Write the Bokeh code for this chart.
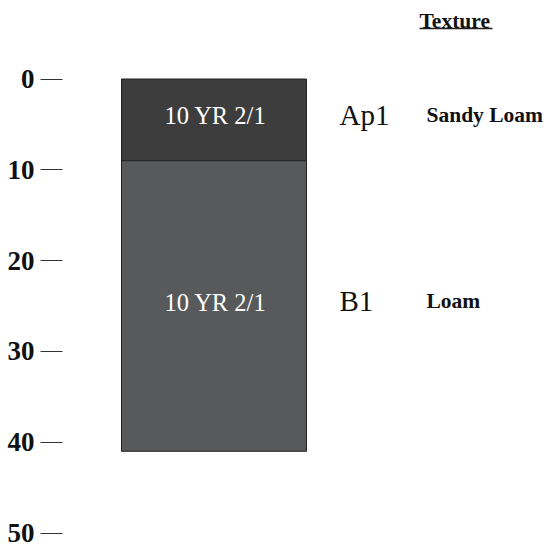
from bokeh.plotting import figure
from bokeh.models import Range1d, FixedTicker, ColumnDataSource, Label
from bokeh.core.properties import value
from bokeh.embed import file_html
from bokeh.resources import INLINE

# ---- data ----
horizons = ["Ap1", "B1"]
top_depth = [0, 9]
bottom_depth = [9, 41]
munsell = ["10 YR 2/1", "10 YR 2/1"]
textures = ["Sandy Loam", "Loam"]
fill_colors = ["#3d3d3d", "#58595b"]
depth_ticks = [0, 10, 20, 30, 40, 50]

# ---- layout constants ----
W, H = 548, 548
LEFT = 62
PX_PER_CM = 9.08
ZERO_Y = 78.5
SERIF = "Liberation Serif"

y_bottom = (H - ZERO_Y) / PX_PER_CM
y_top = -ZERO_Y / PX_PER_CM

def frame_y(px):
    return (px - ZERO_Y) / PX_PER_CM

p = figure(width=W, height=H, output_backend="svg", toolbar_location=None,
           x_range=Range1d(0, W - LEFT), y_range=Range1d(y_bottom, y_top),
           x_axis_location=None, y_axis_location="left",
           min_border_left=LEFT, min_border_right=0, min_border_top=0, min_border_bottom=0)
p.grid.visible = False
p.outline_line_color = None
p.background_fill_color = "white"
p.border_fill_color = "white"

mid = [(t + b) / 2 for t, b in zip(top_depth, bottom_depth)]
src = ColumnDataSource(dict(top=top_depth, bottom=bottom_depth, color=fill_colors,
                            mid=mid, munsell=munsell, hz=horizons, tex=textures))

p.quad(left=59, right=244, top="top", bottom="bottom", fill_color="color",
       line_color="#222222", line_width=1, source=src)

p.text(x=153, y="mid", text="munsell", source=src, text_align="center",
       text_baseline="middle", text_color="white", text_font=value(SERIF),
       text_font_size="24.5px", y_offset=-4)
p.text(x=277, y="mid", text="hz", source=src, text_align="left",
       text_baseline="middle", text_color="#111111", text_font=value(SERIF),
       text_font_size="29px", y_offset=-5)
p.text(x=364, y="mid", text="tex", source=src, text_align="left",
       text_baseline="middle", text_color="#111111", text_font=value(SERIF),
       text_font_size="21.5px", text_font_style="bold", y_offset=-5)

p.add_layout(Label(x=357, y=frame_y(20), text="Texture", text_align="left",
                   text_baseline="alphabetic", text_color="#111111",
                   text_font=SERIF, text_font_size="21.5px", text_font_style="bold"))
p.segment(x0=[357], y0=[frame_y(28)], x1=[430], y1=[frame_y(28)],
          line_color="#222222", line_width=1.5)

ax = p.yaxis[0]
ax.ticker = FixedTicker(ticks=depth_ticks)
ax.axis_line_color = None
ax.major_tick_out = 22
ax.major_tick_in = 0
ax.minor_tick_line_color = None
ax.major_tick_line_color = "#333333"
ax.major_label_standoff = 6
ax.major_label_text_font = SERIF
ax.major_label_text_font_style = "bold"
ax.major_label_text_font_size = "27px"
ax.major_label_text_color = "#111111"

open("out.html", "w").write(file_html(p, INLINE))
